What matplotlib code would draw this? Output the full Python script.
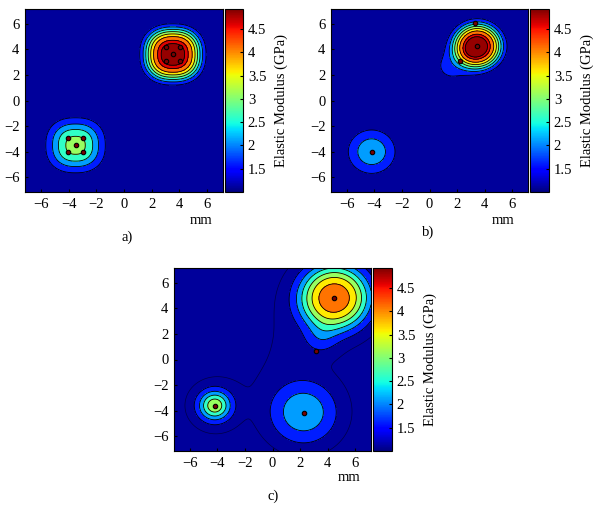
import numpy as np
import matplotlib
matplotlib.use("Agg")
import matplotlib.pyplot as plt
from matplotlib import cm, colors

plt.rcParams['font.family'] = ['Liberation Serif', 'DejaVu Serif']
plt.rcParams['font.size'] = 10.5

# inclusion parameters (centre x, centre y, peak above background, width, profile power, squareness)
a_cx = [3.53, -3.5]
a_cy = [3.6, -3.5]
a_amp = [3.9, 2.2]
a_wid = [1.98, 1.83]
a_pow = [3.8, 2.45]
a_sq = [2.4, 2.4]

b_cx = [3.47, 1.6, -4.2]
b_cy = [4.24, 2.7, -4.0]
b_amp = [3.95, 0.65, 1.2]
b_wid = [1.74, 1.5, 1.77]
b_pow = [3.4, 2.0, 3.0]
b_sq = [2.0, 2.0, 2.0]

c_cx = [4.5, 3.5, -4.2, 2.27, 1.2, -3.8, 2.0]
c_cy = [4.83, 1.6, -3.6, -4.18, -1.5, -3.6, 3.0]
c_amp = [3.3, 0.55, 2.3, 1.25, 0.12, 0.1, 0.1]
c_wid = [2.53, 1.2, 1.16, 2.38, 3.6, 2.2, 2.8]
c_pow = [2.7, 2.0, 2.0, 2.55, 2.0, 2.0, 2.0]
c_sq = [2.0, 2.0, 2.0, 2.0, 2.0, 2.0, 2.0]

background = 1.0

# measurement points
a_px = [3.0, 4.06, 3.0, 4.06, 3.53, -4.04, -2.99, -4.04, -2.99, -3.5]
a_py = [3.07, 3.07, 4.16, 4.16, 3.6, -2.9, -2.9, -4.04, -4.04, -3.46]
b_px = [3.3, 3.47, 2.2, -4.2]
b_py = [6.05, 4.24, 3.1, -4.0]
c_px = [4.5, 3.17, -4.2, 2.27]
c_py = [4.83, 0.7, -3.6, -4.18]

band_levels = [1.5, 2.0, 2.5, 3.0, 3.5, 4.0, 4.5, 4.75]
faint_levels = {'c': [1.1]}
cbar_ticks = [1.5, 2, 2.5, 3, 3.5, 4, 4.5]
axis_ticks = [-6, -4, -2, 0, 2, 4, 6]
vmin, vmax = 1.0, 4.93
lim = 7.15

x = np.linspace(-lim, lim, 400)
xx, yy = np.meshgrid(x, x)


def modulus(cx, cy, amp, wid, pw, sq):
    z = np.full_like(xx, background)
    for x0, y0, a, s, p, q in zip(cx, cy, amp, wid, pw, sq):
        rho = (np.abs(xx - x0) ** q + np.abs(yy - y0) ** q) ** (1.0 / q)
        z += a * np.exp(-(rho / s) ** p)
    return z


norm = colors.Normalize(vmin, vmax)
jet = plt.get_cmap('jet')
fill_levels = [0.5] + band_levels + [6.0]
fill_colors = [jet(norm(v + 0.1)) for v in [background] + band_levels]

fig = plt.figure(figsize=(6.02, 5.12), dpi=100)

panels = [
    ('a', modulus(a_cx, a_cy, a_amp, a_wid, a_pow, a_sq), a_px, a_py,
     [25, 192, 198, 183], [225, 18], (0.89, -0.155), (0.514, -0.25)),
    ('b', modulus(b_cx, b_cy, b_amp, b_wid, b_pow, b_sq), b_px, b_py,
     [331, 192, 197, 183], [530, 19], (0.875, -0.155), (0.494, -0.218)),
    ('c', modulus(c_cx, c_cy, c_amp, c_wid, c_pow, c_sq), c_px, c_py,
     [174, 451, 197, 183], [373, 19], (0.888, -0.143), (0.504, -0.25)),
]

W, H = 602.0, 512.0
for name, z, px, py, box, cbox, mm_pos, tag_pos in panels:
    left, bottom, w, h = box
    ax = fig.add_axes([left / W, 1 - bottom / H, w / W, h / H])
    ax.contourf(xx, yy, z, levels=fill_levels, colors=fill_colors)
    ax.contour(xx, yy, z, levels=band_levels, colors='k', linewidths=0.6)
    if name in faint_levels:
        ax.contour(xx, yy, z, levels=faint_levels[name], colors='k',
                   linewidths=0.5, alpha=0.55)
    ax.plot(px, py, 'o', ms=3.2, mfc='#7a0000', mec='k', mew=0.8)
    ax.set_xlim(-lim, lim)
    ax.set_ylim(-lim, lim)
    ax.set_xticks(axis_ticks)
    ax.set_yticks(axis_ticks)
    ax.tick_params(direction='in', length=2, labelsize=10.5, pad=4)
    ax.text(*mm_pos, 'mm', transform=ax.transAxes, ha='center', va='center')
    ax.text(*tag_pos, name + ')', transform=ax.transAxes, ha='center', va='center')

    cax = fig.add_axes([cbox[0] / W, 1 - bottom / H, cbox[1] / W, h / H])
    sm = cm.ScalarMappable(norm=norm, cmap=jet)
    cb = fig.colorbar(sm, cax=cax, ticks=cbar_ticks)
    cb.ax.set_yticklabels(['%g' % t for t in cbar_ticks])
    cb.ax.tick_params(length=2, direction='in', labelsize=10.5)
    cb.set_label('Elastic Modulus (GPa)', fontsize=10.5, labelpad=6)

fig.savefig('out.png', dpi=100)
